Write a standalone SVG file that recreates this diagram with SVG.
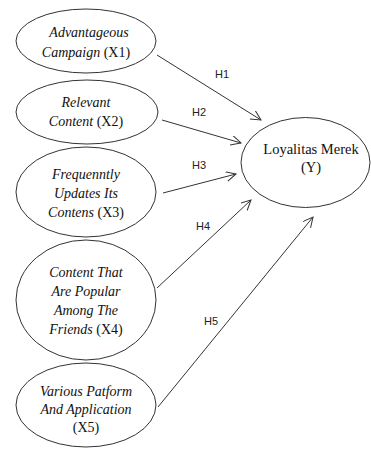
<svg xmlns="http://www.w3.org/2000/svg" width="371" height="450" viewBox="0 0 371 450">
<style>
.node{fill:#fff;stroke:#333;stroke-width:1}
.t{font-family:"Liberation Serif","Times New Roman",serif;font-size:14px;fill:#111;text-anchor:middle}
.y{font-size:14.5px}
.i{font-style:italic}
.lbl{font-family:"Liberation Sans",Arial,sans-serif;font-size:11px;fill:#222}
.edge{stroke:#333;stroke-width:1;fill:none;marker-end:url(#arr)}
</style>
<defs>
<marker id="arr" markerWidth="12" markerHeight="12" refX="10" refY="5" orient="auto" markerUnits="userSpaceOnUse">
<path d="M0,0 L10,5 L0,10" fill="none" stroke="#333" stroke-width="1"/>
</marker>
</defs>
<rect width="371" height="450" fill="#fff"/>
<g id="connectors">
<line class="edge" x1="157" y1="55" x2="261" y2="120"/>
<line class="edge" x1="162" y1="120" x2="241" y2="143"/>
<line class="edge" x1="163" y1="193" x2="236" y2="174"/>
<line class="edge" x1="157" y1="288" x2="251" y2="200"/>
<line class="edge" x1="158" y1="407" x2="313" y2="217"/>
<text class="lbl" x="215" y="78">H1</text>
<text class="lbl" x="192" y="116">H2</text>
<text class="lbl" x="192" y="169">H3</text>
<text class="lbl" x="196" y="230">H4</text>
<text class="lbl" x="204" y="325">H5</text>
</g>
<g id="X1">
<ellipse class="node" cx="86" cy="41" rx="70" ry="32"/>
<text class="t" x="89" y="37"><tspan class="i">Advantageous</tspan></text>
<text class="t" x="86" y="57"><tspan class="i">Campaign</tspan> (X1)</text>
</g>
<g id="X2">
<ellipse class="node" cx="87" cy="112" rx="71" ry="32"/>
<text class="t i" x="86" y="107">Relevant</text>
<text class="t" x="86" y="126"><tspan class="i">Content</tspan> (X2)</text>
</g>
<g id="X3">
<ellipse class="node" cx="86" cy="192" rx="70" ry="45"/>
<text class="t i" x="86" y="179">Frequenntly</text>
<text class="t i" x="86" y="198">Updates Its</text>
<text class="t" x="86" y="217"><tspan class="i">Contens</tspan> (X3)</text>
</g>
<g id="X4">
<ellipse class="node" cx="86" cy="300" rx="70" ry="60"/>
<text class="t i" x="86" y="277">Content That</text>
<text class="t i" x="86" y="296">Are Popular</text>
<text class="t i" x="86" y="315">Among The</text>
<text class="t" x="86" y="334"><tspan class="i">Friends</tspan> (X4)</text>
</g>
<g id="X5">
<ellipse class="node" cx="86" cy="405" rx="70" ry="42"/>
<text class="t i" x="86" y="396">Various Patform</text>
<text class="t i" x="86" y="414">And Application</text>
<text class="t" x="86" y="432">(X5)</text>
</g>
<g id="Y">
<ellipse class="node" cx="305.5" cy="162.5" rx="64.5" ry="45"/>
<text class="t y" x="311" y="154">Loyalitas Merek</text>
<text class="t y" x="311" y="172">(Y)</text>
</g>
</svg>
